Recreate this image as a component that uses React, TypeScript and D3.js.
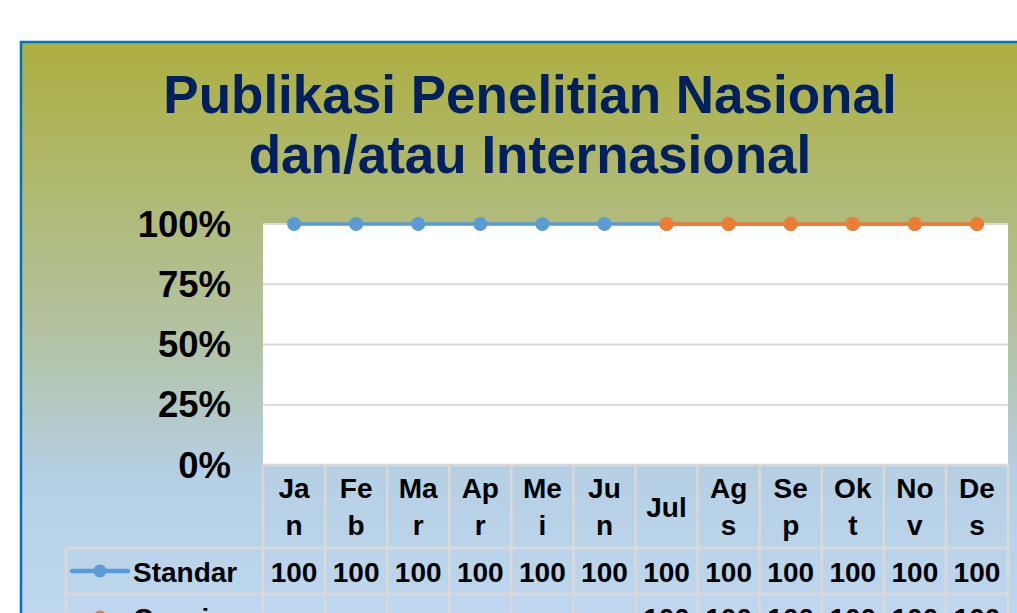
import React from "react";
import * as d3 from "d3";

const categories = ["Jan", "Feb", "Mar", "Apr", "Mei", "Jun", "Jul", "Ags", "Sep", "Okt", "Nov", "Des"];
const standarValues: (number | null)[] = [100, 100, 100, 100, 100, 100, 100, 100, 100, 100, 100, 100];
const capaianValues: (number | null)[] = [null, null, null, null, null, null, 100, 100, 100, 100, 100, 100];
const yTicks = [0, 0.25, 0.5, 0.75, 1];
const titleLines = ["Publikasi Penelitian Nasional", "dan/atau Internasional"];

const series = [
  { name: "Standar", values: standarValues, color: "#5b9bd5" },
  { name: "Capaian", values: capaianValues, color: "#ed7d31" },
];

const FONT = "'Liberation Sans', Arial, Helvetica, sans-serif";
const W = 1017;
const H = 613;

function measure(text: string, size: number): number {
  if (typeof document === "undefined") return text.length * size * 0.6;
  const c = document.createElement("canvas").getContext("2d");
  if (!c) return text.length * size * 0.6;
  c.font = `bold ${size}px ${FONT}`;
  return c.measureText(text).width;
}

function wrapChars(text: string, size: number, maxW: number): string[] {
  const lines: string[] = [];
  let cur = "";
  for (const ch of text) {
    if (cur && measure(cur + ch, size) > maxW) {
      lines.push(cur);
      cur = ch;
    } else cur += ch;
  }
  if (cur) lines.push(cur);
  return lines;
}

export default function App() {
  const plotL = 263;
  const plotR = 1008;
  const plotT = 224;
  const plotB = 465;
  const x = d3.scaleBand<string>().domain(categories).range([plotL, plotR]).padding(0);
  const y = d3.scaleLinear().domain([0, 1]).range([plotB, plotT]);
  const pct = d3.format(".0%");
  const bw = x.bandwidth();
  const cx = (c: string) => (x(c) as number) + bw / 2;

  const headerBottom = 548;
  const rowH = 46;
  const tableLeft = 66;
  const gridColor = "#d9d9d9";

  const lineGen = d3
    .line<{ c: string; v: number | null }>()
    .defined((d) => d.v != null)
    .x((d) => cx(d.c))
    .y((d) => y((d.v as number) / 100));

  return (
    <svg
      width={W}
      height={H}
      style={{ position: "absolute", left: 0, top: 0, display: "block" }}
      fontFamily={FONT}
    >
      <defs>
        <linearGradient id="bg" gradientUnits="userSpaceOnUse" x1="0" y1="42" x2="0" y2="613">
          <stop offset="0" stopColor="#adaf40" />
          <stop offset="0.3" stopColor="#b0bb79" />
          <stop offset="0.55" stopColor="#b3c4ab" />
          <stop offset="0.75" stopColor="#b5cfe3" />
          <stop offset="1" stopColor="#bed7ee" />
        </linearGradient>
      </defs>
      <rect x={0} y={0} width={W} height={H} fill="#ffffff" />
      <rect x={21} y={42} width={W + 20} height={H + 20} fill="url(#bg)" stroke="#0070c0" strokeWidth={2.5} />

      {titleLines.map((t, i) => (
        <text
          key={t}
          x={530}
          y={113 + i * 60}
          textAnchor="middle"
          fontSize={53}
          fontWeight="bold"
          fill="#002060"
        >
          {t}
        </text>
      ))}

      {/* plot area */}
      <rect x={plotL} y={plotT} width={plotR - plotL} height={plotB - plotT} fill="#ffffff" />
      {yTicks.map((t) => (
        <line key={t} x1={plotL} x2={plotR} y1={y(t)} y2={y(t)} stroke={gridColor} strokeWidth={2} />
      ))}
      {yTicks.map((t) => (
        <text key={"l" + t} x={231} y={y(t) + 12.5} textAnchor="end" fontSize={36.5} fontWeight="bold" fill="#000">
          {pct(t)}
        </text>
      ))}

      {/* series */}
      {series.map((s) => {
        const pts = categories.map((c, i) => ({ c, v: s.values[i] }));
        return (
          <g key={s.name}>
            <path d={lineGen(pts) || ""} fill="none" stroke={s.color} strokeWidth={3.5} />
            {pts
              .filter((p) => p.v != null)
              .map((p) => (
                <circle key={p.c} cx={cx(p.c)} cy={y((p.v as number) / 100)} r={7} fill={s.color} />
              ))}
          </g>
        );
      })}

      {/* data table */}
      <g stroke={gridColor} strokeWidth={2.5}>
        <line x1={plotL} x2={plotR} y1={plotB} y2={plotB} />
        {categories.map((c) => (
          <line key={c} x1={x(c) as number} x2={x(c) as number} y1={plotB} y2={H + 10} />
        ))}
        <line x1={plotR} x2={plotR} y1={plotB} y2={H + 10} />
        <line x1={tableLeft} x2={tableLeft} y1={headerBottom} y2={H + 10} />
        {series.map((s, i) => (
          <line key={s.name} x1={tableLeft} x2={plotR} y1={headerBottom + i * rowH} y2={headerBottom + i * rowH} />
        ))}
      </g>
      {categories.map((c) => {
        const lines = wrapChars(c, 28, 44);
        const mid = 516.5;
        return lines.map((ln, j) => (
          <text
            key={c + j}
            x={cx(c)}
            y={mid + (j - (lines.length - 1) / 2) * 37}
            textAnchor="middle"
            fontSize={28}
            fontWeight="bold"
            fill="#000"
          >
            {ln}
          </text>
        ));
      })}
      {series.map((s, i) => {
        const rc = headerBottom + i * rowH + rowH / 2;
        return (
          <g key={"row" + s.name}>
            <line x1={72} x2={128} y1={rc} y2={rc} stroke={s.color} strokeWidth={4.5} strokeLinecap="round" />
            <circle cx={100} cy={rc} r={6.5} fill={s.color} />
            <text x={133} y={rc + 11} fontSize={28} fontWeight="bold" fill="#000">
              {s.name}
            </text>
            {categories.map((c, k) =>
              s.values[k] != null ? (
                <text key={c} x={cx(c)} y={rc + 11} textAnchor="middle" fontSize={28} fontWeight="bold" fill="#000">
                  {s.values[k]}
                </text>
              ) : null
            )}
          </g>
        );
      })}
    </svg>
  );
}
